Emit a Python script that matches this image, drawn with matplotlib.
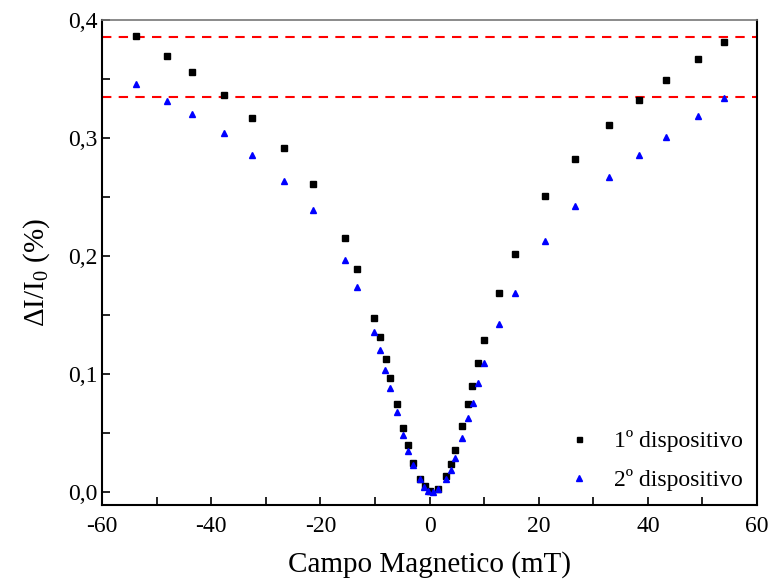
import numpy as np
import matplotlib
matplotlib.use('Agg')
import matplotlib.pyplot as plt
from matplotlib.ticker import MultipleLocator, FuncFormatter

plt.rcParams['font.family'] = ['Liberation Serif', 'DejaVu Serif']
plt.rcParams['mathtext.fontset'] = 'custom'
plt.rcParams['mathtext.rm'] = 'Liberation Serif'

# Campo magnetico (mT) e variacao relativa da corrente
campo_1 = [-53.7, -48.1, -43.6, -37.7, -32.5, -26.7, -21.3, -15.5, -13.2,
           -10.2, -9.1, -8.0, -7.2, -5.95, -4.86, -3.9, -3.0, -1.8, -0.8,
           0.0, 1.56, 2.97, 3.88, 4.67, 5.9, 7.0, 7.84, 8.89, 10.0,
           12.8, 15.6, 21.2, 26.7, 32.9, 38.3, 43.3, 49.2, 53.9]
dI_1 = [0.3858, 0.3695, 0.356, 0.3364, 0.3169, 0.2909, 0.261, 0.2155, 0.1892,
        0.1477, 0.1314, 0.113, 0.0966, 0.0746, 0.0545, 0.0396, 0.0248, 0.0113, 0.0051,
        0.001, 0.0028, 0.0138, 0.024, 0.0356, 0.0559, 0.0748, 0.0898, 0.1093, 0.129,
        0.1688, 0.2015, 0.2507, 0.2823, 0.3107, 0.3318, 0.3486, 0.367, 0.3807]

campo_2 = [-53.7, -48.1, -43.6, -37.7, -32.5, -26.7, -21.3, -15.5, -13.2,
           -10.2, -9.1, -8.1, -7.2, -5.95, -4.86, -3.9, -3.0, -1.8, -1.06,
           -0.2, 0.64, 1.6, 3.0, 3.9, 4.7, 5.95, 7.05, 7.9, 8.9, 10.0,
           12.8, 15.6, 21.2, 26.7, 32.9, 38.3, 43.3, 49.2, 53.9]
dI_2 = [0.3458, 0.3311, 0.3201, 0.304, 0.2853, 0.2633, 0.2384, 0.1964, 0.1737,
        0.1353, 0.1201, 0.1031, 0.0879, 0.0675, 0.048, 0.035, 0.0226, 0.0108, 0.0045,
        0.0011, 0.0, 0.0023, 0.0108, 0.019, 0.029, 0.046, 0.063, 0.0757, 0.0921, 0.109,
        0.1426, 0.1688, 0.2126, 0.2422, 0.2666, 0.2851, 0.3008, 0.3186, 0.3335]

# niveis de saturacao de cada dispositivo
sat_1 = 0.385
sat_2 = 0.334

fig = plt.figure(figsize=(7.68, 5.86), dpi=100)
ax = fig.add_axes([0.1328, 0.138, 0.8529, 0.8287])

ax.axhline(sat_1, color='red', ls=(0, (4.5, 3.5)), lw=1.5, zorder=1)
ax.axhline(sat_2, color='red', ls=(0, (4.5, 3.5)), lw=1.5, zorder=1)

ax.plot(campo_1, dI_1, 's', color='black', ms=4.5, label='1º dispositivo', zorder=3)
ax.plot(campo_2, dI_2, '^', color='blue', ms=5, label='2º dispositivo', zorder=3)

ax.set_xlim(-60, 60)
ax.set_ylim(-0.011, 0.4)
ax.xaxis.set_major_locator(MultipleLocator(20))
ax.xaxis.set_minor_locator(MultipleLocator(10))
ax.yaxis.set_major_locator(MultipleLocator(0.1))
ax.yaxis.set_minor_locator(MultipleLocator(0.05))
ax.yaxis.set_major_formatter(FuncFormatter(lambda v, p: ('%.1f' % v).replace('.', ',')))
ax.xaxis.set_major_formatter(FuncFormatter(lambda v, p: '%d' % v))

ax.tick_params(which='both', direction='in', top=False, right=False,
               labelsize=17, width=1.2)
ax.tick_params(which='major', length=6)
ax.tick_params(which='minor', length=6)
ax.tick_params(axis='x', pad=8)

for s in ['left', 'bottom']:
    ax.spines[s].set_linewidth(1.5)
ax.spines['right'].set_linewidth(1.5)
ax.spines['top'].set_linewidth(1.2)
ax.spines['top'].set_color('#777777')

ax.set_xlabel('Campo Magnetico (mT)', fontsize=21, labelpad=10)
ax.set_ylabel(r'$\Delta$I/I$_0$ (%)', fontsize=21)
ax.yaxis.set_label_coords(-0.077, 0.48)

ax.legend(loc='lower right', frameon=False, fontsize=17, markerscale=0.8,
          handlelength=1.0, handletextpad=1.0, labelspacing=0.7,
          borderaxespad=0.2)

fig.savefig('out.png', dpi=100)
